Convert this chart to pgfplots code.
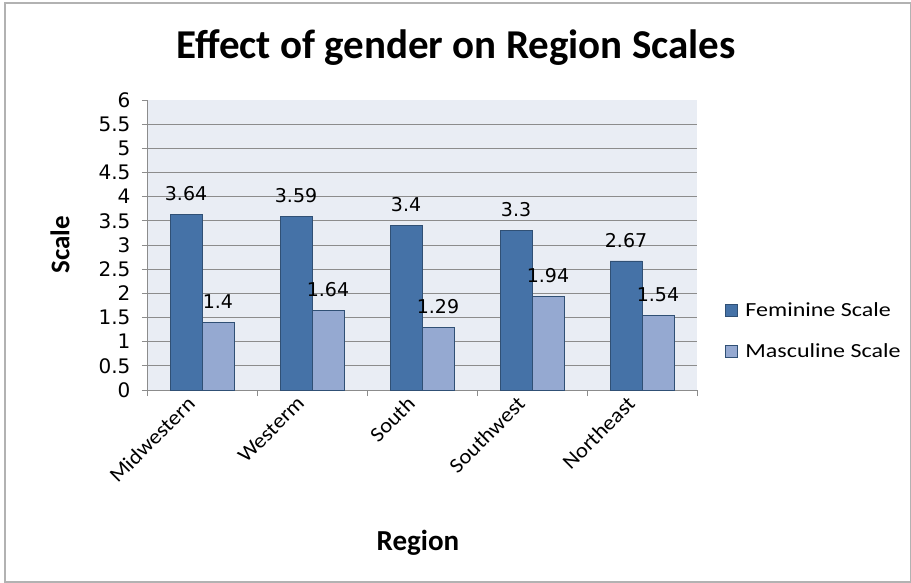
\documentclass[border=0pt]{standalone}
\usepackage{pgfplots}
\pgfplotsset{compat=1.18}
\usepackage{fontspec}
\setmainfont{Carlito}
\newfontfamily\numfont{DejaVu Sans}
\newfontfamily\legfont[FakeStretch=1.2]{Carlito}
\newfontfamily\catfont[FakeStretch=1.08]{Carlito}
\definecolor{fem}{HTML}{4572A7}
\definecolor{mas}{HTML}{95A9D1}
\definecolor{bg}{HTML}{E9EDF4}
\definecolor{gridc}{HTML}{8C8C8C}
\begin{document}
\begin{tikzpicture}[x=1pt,y=1pt]
\useasboundingbox (0,0) rectangle (911,582);
\draw[gray!60, line width=1.2pt] (5,0) rectangle (911,579);
\node[font=\bfseries\fontsize{41}{44}\selectfont] at (456,534) {Effect of gender on Region Scales};
\node[font=\bfseries\fontsize{27}{30}\selectfont, rotate=90] at (60,337) {Scale};
\node[font=\bfseries\fontsize{29}{32}\selectfont] at (418,39) {Region};
\begin{axis}[
  at={(147pt,192pt)}, anchor=south west,
  scale only axis, width=550pt, height=290pt,
  xmin=-0.5, xmax=4.5, ymin=0, ymax=6,
  axis background/.style={fill=bg},
  axis x line*=bottom, axis y line*=left,
  axis line style={gridc, line width=0.8pt},
  /pgf/number format/assume math mode=true,
  ytick={0,0.5,...,5.5}, extra y ticks={6}, extra y tick style={grid=none},
  yticklabel style={font=\numfont\fontsize{20}{20}\selectfont, xshift=-8pt},
  ymajorgrids, grid style={gridc, line width=0.8pt},
  tick align=outside, major tick length=5pt,
  tick style={gridc, line width=0.8pt},
  xtick={0,1,2,3,4},
  xticklabels={Midwestern,Westerm,South,Southwest,Northeast},
  major x tick style={draw=none},
  minor xtick={-0.5,0.5,1.5,2.5,3.5,4.5}, minor tick length=6pt,
  minor x tick style={gridc, line width=0.8pt},
  xticklabel style={font=\catfont\fontsize{21}{21}\selectfont, anchor=north east, xshift=-16pt, yshift=5pt, rotate=45},
  ybar, bar width=0.29,
  nodes near coords,
  every node near coord/.append style={font=\numfont\fontsize{19}{19}\selectfont, yshift=10pt, black},
  legend style={at={(1.045,0.205)}, anchor=west, draw=none, fill=none,
    font=\legfont\fontsize{20}{20}\selectfont, row sep=22pt},
  legend cell align=left,
  legend image code/.code={\draw[#1] (0pt,-6pt) rectangle (12pt,6pt); \path (18pt,0pt);},
]
\addplot[fill=fem, draw=fem!70!black, line width=0.5pt, bar shift=-0.145] coordinates {(0,3.64) (1,3.59) (2,3.4) (3,3.3) (4,2.67)};
\addplot[fill=mas, draw=fem!70!black, line width=0.5pt, bar shift=0.145] coordinates {(0,1.4) (1,1.64) (2,1.29) (3,1.94) (4,1.54)};
\legend{Feminine Scale, Masculine Scale}
\end{axis}
\end{tikzpicture}
\end{document}
